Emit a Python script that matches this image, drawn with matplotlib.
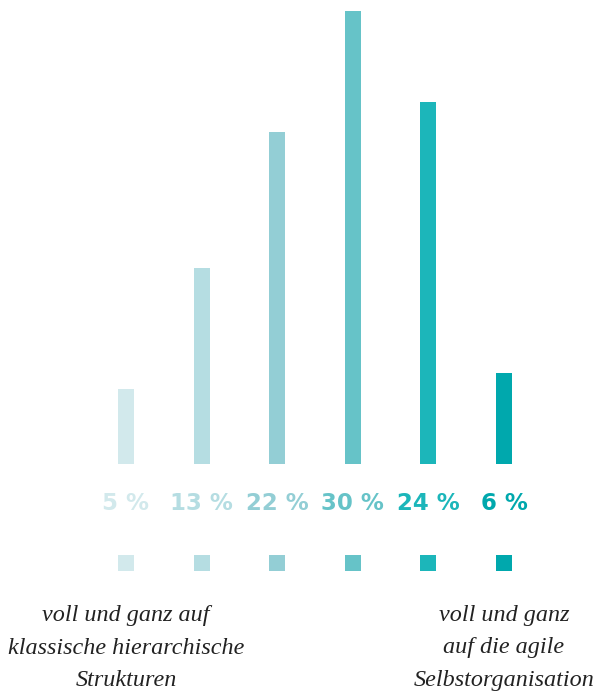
import matplotlib
matplotlib.use("Agg")
import matplotlib.pyplot as plt

values = [5, 13, 22, 30, 24, 6]
labels = ["5 %", "13 %", "22 %", "30 %", "24 %", "6 %"]
colors = ["#D2E9EC", "#B5DDE2", "#93CED5", "#66C3C8", "#1CB6BA", "#00A8AD"]
left_text = "voll und ganz auf\nklassische hierarchische\nStrukturen"
right_text = "voll und ganz\nauf die agile\nSelbstorganisation"

W, H = 597, 694
fig = plt.figure(figsize=(W / 100, H / 100), dpi=100)

x0, dx = 126, 75.6
xlim = (-x0 / dx, (W - x0) / dx)
bar_w = 16 / dx
ppu = 15.1
bottom_px = 464

ax = fig.add_axes([0, (H - bottom_px) / H, 1, bottom_px / H])
xs = list(range(len(values)))
ax.bar(xs, values, width=bar_w, color=colors)
ax.set_xlim(*xlim)
ax.set_ylim(0, bottom_px / ppu)
ax.axis("off")

ov = fig.add_axes([0, 0, 1, 1])
ov.set_xlim(*xlim)
ov.set_ylim(H, 0)
ov.axis("off")
ov.bar(xs, [16] * len(xs), bottom=[555] * len(xs), width=bar_w, color=colors)

for x, lab, c in zip(xs, labels, colors):
    ov.text(x, 503, lab, ha="center", va="center", color=c,
            fontsize=16.5, fontweight="bold", family="DejaVu Sans")

ov.text(0, 648, left_text, ha="center", va="center",
        fontsize=17.4, style="italic", family="Liberation Serif",
        linespacing=1.72, color="#222222")
ov.text(5, 648, right_text, ha="center", va="center",
        fontsize=17.4, style="italic", family="Liberation Serif",
        linespacing=1.72, color="#222222")

fig.savefig("out.png", dpi=100)
